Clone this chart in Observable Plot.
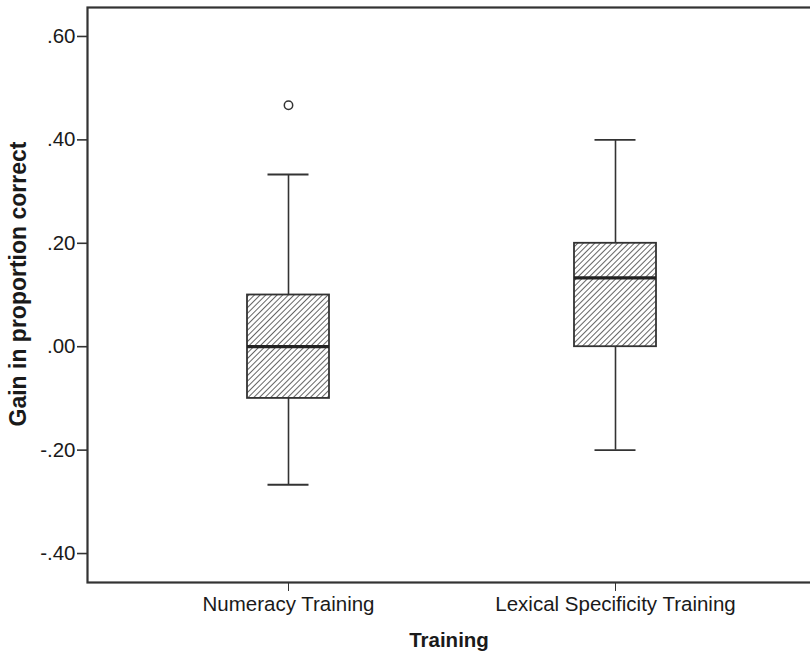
<!DOCTYPE html>
<html>
<head>
<meta charset="utf-8">
<script src="https://cdn.jsdelivr.net/npm/d3@7"></script>
<script src="https://cdn.jsdelivr.net/npm/@observablehq/plot@0.6"></script>
<style>
  html, body { margin: 0; padding: 0; background: #fff; overflow: hidden; }
  #chart svg { overflow: hidden; }
</style>
</head>
<body>
<div id="chart"></div>
<script>
const categories = ["Numeracy Training", "Lexical Specificity Training"];
const lowerWhisker = [-0.267, -0.200];
const q1 = [-0.100, 0.000];
const median = [0.000, 0.133];
const q3 = [0.100, 0.200];
const upperWhisker = [0.333, 0.400];
const outlierCategory = ["Numeracy Training"];
const outlierValue = [0.467];
const yTicks = [-0.4, -0.2, 0, 0.2, 0.4, 0.6];

const boxes = categories.map((c, i) => ({
  cat: c, lo: lowerWhisker[i], q1: q1[i], med: median[i], q3: q3[i], hi: upperWhisker[i]
}));
const outliers = outlierCategory.map((c, i) => ({cat: c, v: outlierValue[i]}));

const fmt = d => d3.format(".2f")(d).replace("0.", ".").replace("\u2212", "-");
const ink = "#333";

const chart = Plot.plot({
  width: 810,
  height: 655,
  marginLeft: 87,
  marginRight: 0,
  marginTop: 7,
  marginBottom: 73,
  style: {fontFamily: "'Liberation Sans', Arial, sans-serif", fontSize: "20.5px", color: "#1a1a1a", background: "#fff"},
  x: {type: "band", domain: categories, paddingInner: 0.749, paddingOuter: 0.48, align: 0.51, label: null},
  y: {domain: [-0.456, 0.656], label: null},
  marks: [
    Plot.ruleX(boxes, {x: "cat", y1: "lo", y2: "q1", stroke: ink, strokeWidth: 1.6}),
    Plot.ruleX(boxes, {x: "cat", y1: "q3", y2: "hi", stroke: ink, strokeWidth: 1.6}),
    Plot.tickY(boxes, {x: "cat", y: "lo", stroke: ink, strokeWidth: 1.8, insetLeft: 20.5, insetRight: 20.5}),
    Plot.tickY(boxes, {x: "cat", y: "hi", stroke: ink, strokeWidth: 1.8, insetLeft: 20.5, insetRight: 20.5}),
    Plot.barY(boxes, {x: "cat", y1: "q1", y2: "q3", fill: "url(#hatch)", stroke: ink, strokeWidth: 1.8}),
    Plot.tickY(boxes, {x: "cat", y: "med", stroke: "#222", strokeWidth: 3.2}),
    Plot.dot(outliers, {x: "cat", y: "v", r: 4.2, fill: "#fff", stroke: ink, strokeWidth: 1.5}),
    Plot.axisY({ticks: yTicks, tickFormat: fmt, tickSize: 10, tickPadding: 2, stroke: ink, strokeWidth: 1.6,
      label: "Gain in proportion correct", labelAnchor: "center", labelArrow: "none", labelOffset: 76}),
    Plot.axisX({tickSize: 9, tickPadding: 5, stroke: ink, strokeWidth: 1,
      label: "Training", labelAnchor: "center", labelArrow: "none", labelOffset: 64}),
    Plot.frame({stroke: ink, strokeWidth: 2.2, insetRight: -4})
  ]
});

// hatch pattern for boxes
const svgNS = "http://www.w3.org/2000/svg";
const defs = document.createElementNS(svgNS, "defs");
const pat = document.createElementNS(svgNS, "pattern");
pat.setAttribute("id", "hatch");
pat.setAttribute("patternUnits", "userSpaceOnUse");
pat.setAttribute("width", "4");
pat.setAttribute("height", "4");
pat.setAttribute("patternTransform", "rotate(45)");
const bg = document.createElementNS(svgNS, "rect");
bg.setAttribute("width", "4"); bg.setAttribute("height", "4"); bg.setAttribute("fill", "#fff");
const ln = document.createElementNS(svgNS, "line");
ln.setAttribute("x1", "0"); ln.setAttribute("y1", "0");
ln.setAttribute("x2", "0"); ln.setAttribute("y2", "4");
ln.setAttribute("stroke", "#333"); ln.setAttribute("stroke-width", "1.5");
pat.appendChild(bg); pat.appendChild(ln);
defs.appendChild(pat);
chart.insertBefore(defs, chart.firstChild);

// axis titles: bold, strip any arrow
chart.querySelectorAll("g[aria-label='y-axis label'] text, g[aria-label='x-axis label'] text").forEach(t => {
  t.setAttribute("font-weight", "bold");
  t.textContent = t.textContent.replace(/[\u2190-\u2193]/g, "").trim();
});
chart.querySelectorAll("g[aria-label='y-axis label'] text").forEach(t => {
  t.setAttribute("font-size", "23px");
  t.setAttribute("dy", "-2");
  t.setAttribute("dx", "11");
});

document.getElementById("chart").appendChild(chart);
</script>
</body>
</html>
